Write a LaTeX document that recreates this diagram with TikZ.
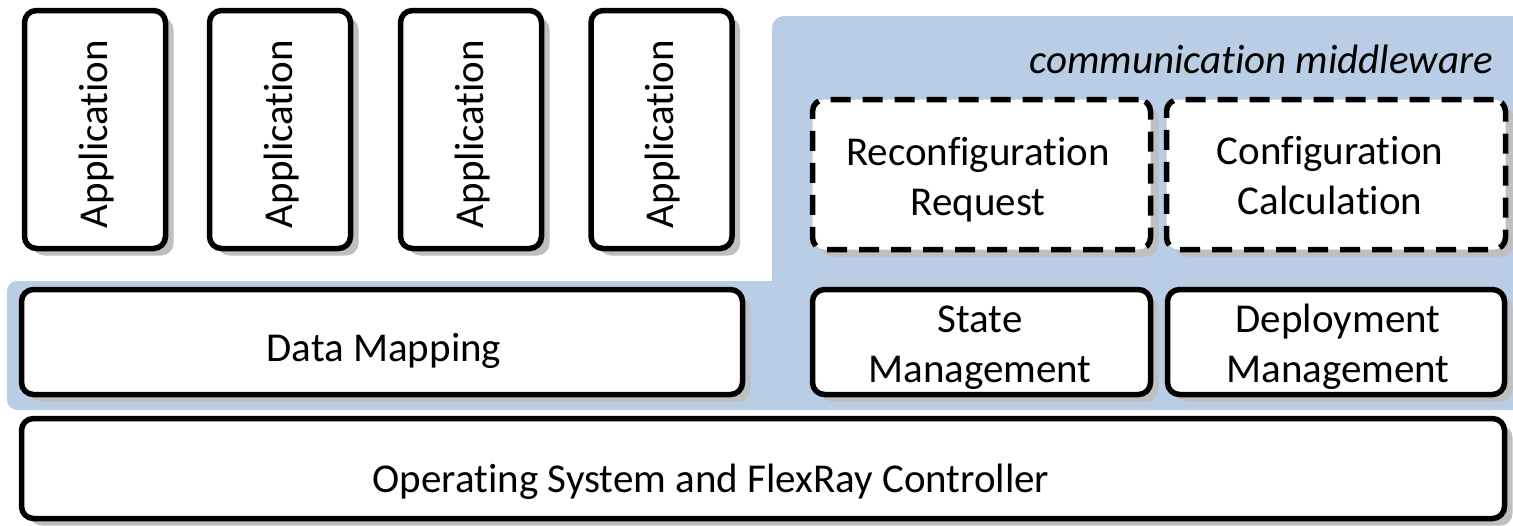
\documentclass[tikz,border=0pt]{standalone}
\usepackage{fontspec}
\setmainfont{Carlito}[Ligatures=NoCommon]
\usetikzlibrary{shadows}
\definecolor{mwblue}{HTML}{B9CDE5}
\definecolor{shadowgray}{HTML}{BFBFBF}

\begin{document}
\begin{tikzpicture}[x=1pt,y=-1pt,
  lbl/.style={font=\fontsize{41}{50}\selectfont, align=center, inner sep=0pt},
  blk/.style={draw=black, line width=5.5pt, rounded corners=12pt, fill=white,
    inner sep=0pt,
    drop shadow={shadow xshift=8pt, shadow yshift=-7pt, fill=shadowgray, opacity=1}},
  dashblk/.style={blk, dash pattern=on 20pt off 12pt},
  appblk/.style={blk, minimum width=141pt, minimum height=238pt},
]
\useasboundingbox (0,0) rectangle (1513,525);

% middleware background
\fill[mwblue, rounded corners=12pt] (772,16) rectangle (1545,300);
\fill[mwblue, rounded corners=10pt] (7,281) rectangle (1545,410);

% applications
\node[appblk] (app1) at (95,129.5) {};
\node[appblk] (app2) at (280,129.5) {};
\node[appblk] (app3) at (471,129.5) {};
\node[appblk] (app4) at (661.5,129.5) {};
\node[lbl, rotate=90, anchor=base] (app1t) at (107,134) {Application};
\node[lbl, rotate=90, anchor=base] (app2t) at (292,134) {Application};
\node[lbl, rotate=90, anchor=base] (app3t) at (483,134) {Application};
\node[lbl, rotate=90, anchor=base] (app4t) at (673.5,134) {Application};

% middleware components (base anchor sits on the last line)
\node[lbl, font=\fontsize{41}{50}\selectfont\itshape, anchor=base east] (mwt) at (1493,73) {communication middleware};
\node[dashblk, minimum width=338pt, minimum height=150pt] (reconf) at (981.5,174.5) {};
\node[dashblk, minimum width=339pt, minimum height=150pt] (calc) at (1336,174.5) {};
\node[lbl, anchor=base] (reconft) at (978,215) {Reconfiguration\\Request};
\node[lbl, anchor=base] (calct) at (1330,214) {Configuration\\Calculation};

\node[blk, minimum width=338pt, minimum height=105pt] (state) at (981.5,342) {};
\node[blk, minimum width=337pt, minimum height=105pt] (deploy) at (1336,342) {};
\node[lbl, anchor=base] (statet) at (980,382) {State\\Management};
\node[lbl, anchor=base] (deployt) at (1338,382) {Deployment\\Management};

% data mapping and OS layer
\node[blk, minimum width=721pt, minimum height=105pt] (dmap) at (382,342) {};
\node[lbl, anchor=base] (dmapt) at (384,361) {Data Mapping};
\node[blk, minimum width=1483pt, minimum height=100pt] (os) at (763,468.5) {};
\node[lbl, anchor=base] (ost) at (711,492) {Operating System and FlexRay Controller};
\end{tikzpicture}
\end{document}
